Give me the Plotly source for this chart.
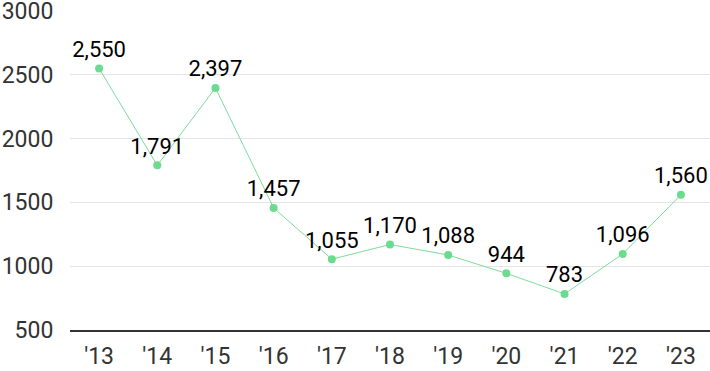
import plotly.graph_objects as go

years = ["'13", "'14", "'15", "'16", "'17", "'18", "'19", "'20", "'21", "'22", "'23"]
values = [2550, 1791, 2397, 1457, 1055, 1170, 1088, 944, 783, 1096, 1560]
y_ticks = [500, 1000, 1500, 2000, 2500, 3000]

labels = [f"{v:,}" for v in values]

fig = go.Figure()
fig.add_trace(go.Scatter(
    x=years, y=values, mode="lines+markers+text",
    line=dict(color="#7ddc9a", width=1),
    marker=dict(color="#6bdc8f", size=8),
    text=labels, textposition="top center",
    textfont=dict(family="Roboto", size=22, color="#000"),
    cliponaxis=False,
))
fig.update_layout(
    width=710, height=371,
    margin=dict(l=70, r=0, t=11, b=41),
    plot_bgcolor="white", paper_bgcolor="white",
    showlegend=False,
    font=dict(family="Roboto"),
)
fig.update_yaxes(
    range=[500, 3000], tickvals=y_ticks, showgrid=True, gridcolor="#e5e5e5",
    gridwidth=1, zeroline=False, ticklabeloverflow="allow", automargin=False,
    tickfont=dict(family="Roboto", size=23, color="#333"),
    ticks="outside", ticklen=11, tickcolor="rgba(0,0,0,0)",
)
fig.update_xaxes(
    type="category", range=[-0.5, 10.5], showgrid=False, automargin=False,
    showline=True, linecolor="#333", linewidth=1.5,
    tickfont=dict(family="Roboto", size=23, color="#333"),
    ticks="outside", ticklen=5, tickcolor="rgba(0,0,0,0)",
)
fig.write_html("out.html", config={"displayModeBar": False},
               post_script="document.body.style.margin='0';")
